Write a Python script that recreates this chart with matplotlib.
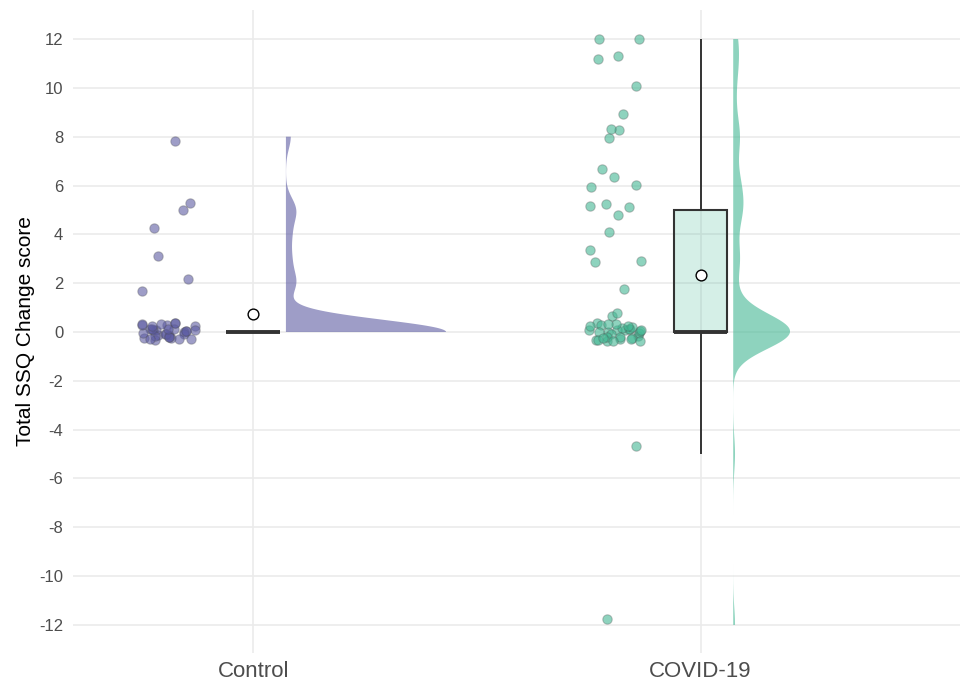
import numpy as np
import matplotlib
matplotlib.use("Agg")
import matplotlib.pyplot as plt
from matplotlib.colors import to_rgba
from matplotlib.patches import Rectangle

plt.rcParams['font.family'] = ['Liberation Sans', 'DejaVu Sans']

# ---- data ----
groups = ["Control", "COVID-19"]
control_scores = [8, 5, 5, 4, 3, 2, 2,
                  0, 0, 0, 0, 0, 0, 0, 0, 0, 0, 0, 0, 0, 0, 0, 0, 0,
                  0, 0, 0, 0, 0, 0, 0, 0, 0, 0, 0, 0, 0, 0, 0, 0]
covid_scores = [12, 12, 11, 11, 10, 9, 8, 8, 8, 7, 6, 6, 6, 5, 5, 5, 5,
                4, 3, 3, 3, 2, 1, 1, -5, -12,
                0, 0, 0, 0, 0, 0, 0, 0, 0, 0, 0, 0, 0, 0, 0, 0,
                0, 0, 0, 0, 0, 0, 0, 0, 0, 0, 0, 0, 0, 0, 0]
y_ticks = [-12, -10, -8, -6, -4, -2, 0, 2, 4, 6, 8, 10, 12]
y_label = "Total SSQ Change score"

# ---- styles ----
base_colors = {"Control": "#5D5CA3", "COVID-19": "#43B793"}
bandwidths = {"Control": 0.5, "COVID-19": 0.7}
max_widths = {"Control": 0.358, "COVID-19": 0.127}
point_offset = -0.19
point_jitter_w = 0.06
point_jitter_h = 0.38
dens_offset = 0.073
box_w = 0.12


def kde(values, grid, bw):
    v = np.asarray(values, float)
    z = (grid[:, None] - v[None, :]) / bw
    return np.exp(-0.5 * z ** 2).sum(axis=1) / (len(v) * bw * np.sqrt(2 * np.pi))


fig = plt.figure(figsize=(9.6, 6.84), dpi=100)
ax = fig.add_axes([73 / 960, (684 - 653) / 684, (960 - 73) / 960, (653 - 10) / 684])

rng = np.random.default_rng(7)
data = {"Control": control_scores, "COVID-19": covid_scores}

for i, g in enumerate(groups):
    x = i + 1
    vals = np.asarray(data[g], float)
    col = base_colors[g]

    # half density (trimmed to data range)
    grid = np.linspace(vals.min(), vals.max(), 600)
    d = kde(vals, grid, bandwidths[g])
    d = d / d.max() * max_widths[g]
    ax.fill_betweenx(grid, x + dens_offset, x + dens_offset + d,
                     facecolor=to_rgba(col, 0.6), edgecolor='none', zorder=2)

    # box
    q1, med, q3 = np.percentile(vals, [25, 50, 75])
    iqr = q3 - q1
    lo = vals[vals >= q1 - 1.5 * iqr].min()
    hi = vals[vals <= q3 + 1.5 * iqr].max()
    ax.plot([x, x], [q3, hi], color='#333333', lw=1.4, zorder=3, solid_capstyle='butt')
    ax.plot([x, x], [lo, q1], color='#333333', lw=1.4, zorder=3, solid_capstyle='butt')
    ax.add_patch(Rectangle((x - box_w / 2, q1), box_w, q3 - q1,
                           facecolor=to_rgba(col, 0.22), edgecolor='#333333',
                           lw=1.5, zorder=3))
    ax.plot([x - box_w / 2, x + box_w / 2], [med, med], color='#333333', lw=2.8,
            zorder=4, solid_capstyle='butt')
    ax.scatter([x], [vals.mean()], s=60, facecolor='white', edgecolor='black',
               lw=1.0, zorder=6)

    # jittered points
    jx = rng.uniform(-point_jitter_w, point_jitter_w, len(vals))
    jy = rng.uniform(-point_jitter_h, point_jitter_h, len(vals))
    ax.scatter(x + point_offset + jx, vals + jy, s=46,
               facecolor=to_rgba(col, 0.6), edgecolor=to_rgba('#4a4a4a', 0.3),
               lw=0.8, zorder=5)

ax.set_xlim(0.597, 2.58)
ax.set_ylim(-13.15, 13.19)
ax.set_xticks([1, 2])
ax.set_xticklabels(groups, fontsize=16, color='#4D4D4D')
ax.set_yticks(y_ticks)
ax.set_yticklabels([str(t) for t in y_ticks], fontsize=12, color='#4D4D4D')
ax.tick_params(length=0)
ax.tick_params(axis='y', pad=7)
ax.tick_params(axis='x', pad=6)
ax.set_ylabel(y_label, fontsize=15, color='black', labelpad=3)
for s in ax.spines.values():
    s.set_visible(False)
ax.grid(True, color='#EBEBEB', lw=1.2, zorder=0)
ax.set_axisbelow(True)

fig.savefig("out.png", dpi=100)
